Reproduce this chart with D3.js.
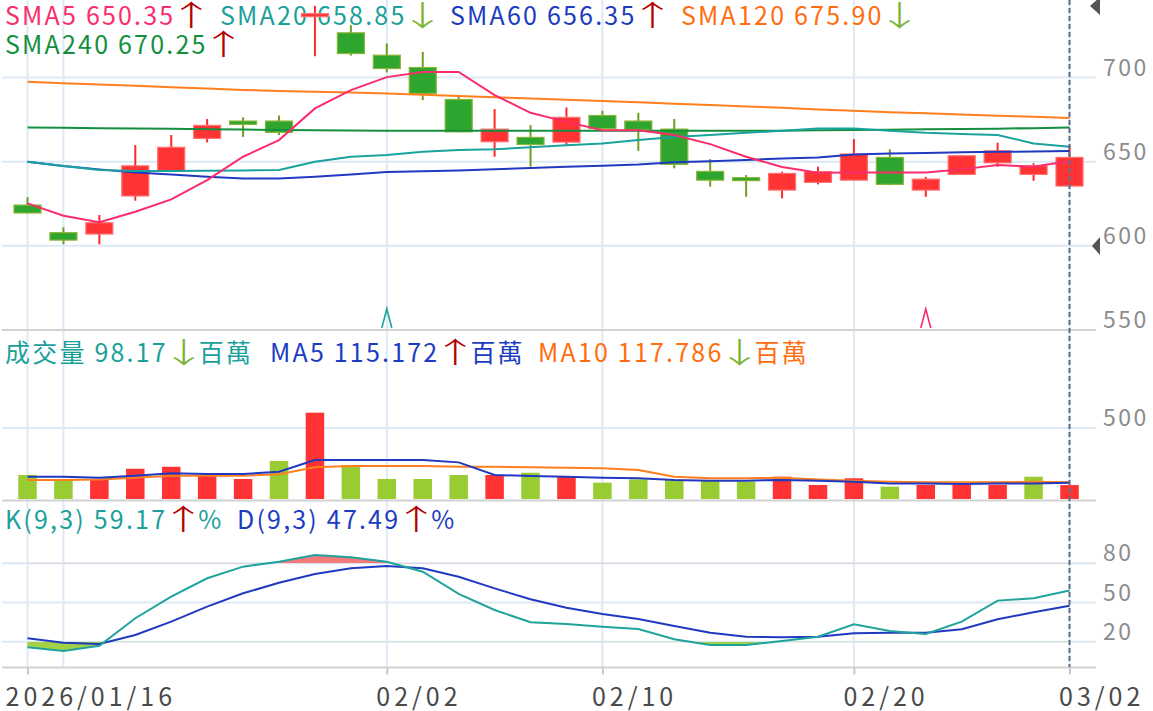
<!DOCTYPE html>
<html lang="zh-TW"><head><meta charset="utf-8">
<script src="https://cdn.jsdelivr.net/npm/d3@7/dist/d3.min.js"></script>
<style>
html,body{margin:0;padding:0;background:#fff;}
svg{display:block;}
text{font-family:"Noto Sans CJK TC","Noto Sans",sans-serif;}
</style></head><body>
<svg id="c" width="1153" height="711"></svg>
<script>
// ---------- DATA ----------
const dates = ["2026/01/16","01/19","01/20","01/21","01/22","01/23","01/26","01/27","01/28","01/29",
  "02/02","02/03","02/04","02/05","02/06","02/09","02/10","02/11","02/12","02/13",
  "02/16","02/17","02/18","02/20","02/23","02/24","02/25","02/26","02/27","03/02"];
const tickDates = ["2026/01/16","02/02","02/10","02/20","03/02"];
const extraGridDates = ["01/19"];

const open  = [624.2,607.8,607.0,629.6,644.4,663.8,674.1,674.1,736.6,726.5,713.2,705.9,686.9,661.8,664.4,661.6,677.4,674.1,669.3,644.2,640.0,633.1,637.7,639.0,652.5,633.1,642.4,649.3,642.4,635.5];
const high  = [628.9,611.0,618.3,659.8,665.8,675.3,676.3,677.4,742.5,731.0,720.2,715.2,689.5,681.2,671.7,682.2,680.2,679.0,675.3,651.5,642.0,644.0,647.0,663.4,657.3,641.0,654.0,661.2,649.0,659.8];
const low   = [619.3,601.0,600.9,626.8,644.0,661.4,664.7,665.8,712.6,713.0,703.0,686.5,667.5,652.9,647.0,659.4,669.5,656.4,646.0,635.1,629.1,628.2,636.5,639.0,636.0,629.1,642.0,647.0,638.6,635.5];
const close = [619.5,603.4,613.7,647.5,658.5,671.5,672.1,667.4,737.4,714.2,705.3,690.5,667.7,669.3,660.2,676.3,669.7,669.1,648.4,639.0,639.2,643.0,644.0,654.5,636.5,639.6,653.5,656.4,647.5,652.5];

const sma5   = [625.2,617.9,614.0,620.2,627.6,639.0,652.9,662.8,681.6,692.5,700.2,703.3,703.3,689.5,679.0,673.6,668.7,668.7,665.8,660.4,652.9,646.8,643.4,643.6,643.6,643.6,645.4,648.0,646.9,650.35];
const sma20  = [649.9,647.4,645.0,644.4,644.4,644.6,644.8,645.0,649.9,652.9,653.9,655.8,656.9,657.3,658.5,659.8,660.8,662.8,664.7,665.8,667.1,668.3,669.7,669.7,668.3,667.1,666.4,665.8,660.8,658.85];
const sma60  = [649.9,647.4,645.4,643.6,642.4,641.0,640.0,640.0,641.0,642.4,643.8,644.3,644.8,645.5,646.2,647.0,647.6,648.3,649.6,650.3,651.0,651.8,652.5,654.3,654.8,655.2,655.5,655.8,656.0,656.35];
const sma120 = [697.4,696.6,695.8,695.0,694.2,693.4,692.6,691.9,691.5,691.0,690.5,689.7,689.0,688.2,687.5,686.7,686.0,685.2,684.4,683.6,682.8,682.0,681.0,680.2,679.4,678.7,678.0,677.3,676.6,675.9];
const sma240 = [670.3,670.1,669.9,669.7,669.5,669.3,669.1,668.8,668.6,668.5,668.4,668.3,668.3,668.3,668.3,668.3,668.3,668.3,668.3,668.3,668.3,668.4,668.6,668.8,669.0,669.2,669.4,669.6,669.9,670.25];

const volume = [169,141,141,213,227,169,141,268,608,239,141,141,169,169,185,157,115,138,138,129,122,157,99,146,87,99,99,99,157,98.17];
const volUp  = [0,0,1,1,1,1,1,0,1,0,0,0,0,1,0,1,0,0,0,0,0,1,1,1,0,1,1,1,0,1];
const volMA5  = [157,157,150,164,181,176,176,192,275,275,275,275,258,169,162,157,150,146,134,129,129,134,129,122,110,110,106,110,110,115.172];
const volMA10 = [134,134,138,150,164,164,164,174,223,232,232,232,227,227,223,220,216,204,157,146,146,150,138,129,122,118,118,118,122,117.786];

const kVal = [15.7,12.9,16.9,37.9,54.4,68.5,77.4,81.2,86.3,84.6,81.2,73.5,56.5,44.2,34.8,33.5,31.5,29.7,21.8,17.4,17.4,20.5,23.8,33.3,28.2,25.9,35.3,51.4,53.2,59.17];
const dVal = [22.6,19.2,18.2,25.1,35.3,46.8,57.0,65.1,71.8,76.1,77.9,76.1,69.7,60.8,52.4,46.0,41.2,37.3,32.0,26.9,23.8,23.3,23.8,26.4,26.9,26.9,29.5,37.1,42.5,47.49];

const priceTicks = [550,600,650,700];
const volTicks = [500];
const kdTicks = [20,50,80];

const peakMarks = [{date:"02/02", color:"#1aa39e"},{date:"02/24", color:"#fa2d6c"}];

const legendMain = [
  {row:0, x:5,   parts:[["SMA5 650.35","#fa2d6c"],["↑","#b50000"]]},
  {row:0, x:220, parts:[["SMA20 658.85","#1a9f9a"],["↓","#7cb335"]]},
  {row:0, x:450, parts:[["SMA60 656.35","#1b3cc0"],["↑","#b50000"]]},
  {row:0, x:681, parts:[["SMA120 675.90","#ff6d0f"],["↓","#7cb335"]]},
  {row:1, x:5,   parts:[["SMA240 670.25","#148f3e"],["↑","#b50000"]]}
];
const legendVol = [
  {x:5,   parts:[["成交量 98.17","#1a9f9a"],["↓","#7cb335"],["百萬","#1a9f9a"]]},
  {x:270, parts:[["MA5 115.172","#1b3cc0"],["↑","#b50000"],["百萬","#1b3cc0"]]},
  {x:538, parts:[["MA10 117.786","#ff6d0f"],["↓","#7cb335"],["百萬","#ff6d0f"]]}
];
const legendKD = [
  {x:5,   parts:[["K(9,3) 59.17","#1a9f9a"],["↑","#b50000"],["%","#1a9f9a"]]},
  {x:237, parts:[["D(9,3) 47.49","#1b3cc0"],["↑","#b50000"],["%","#1b3cc0"]]}
];

// ---------- LAYOUT ----------
const svg = d3.select("#c");
const plotL = 2, plotR = 1096;
const x = d3.scalePoint().domain(dates).range([27.5, 1069.5]);
const yP = d3.scaleLinear().domain([550, 746]).range([330, 0]);
const yV = d3.scaleLinear().domain([0, 500]).range([499, 428]);
const yK = d3.scaleLinear().domain([0, 100]).range([667.8, 537.1]);
const idx = d3.range(dates.length);

const gridColor = "#dde9f5";
const g = svg.append("g");
g.selectAll("line.vg").data(tickDates.concat(extraGridDates)).join("line")
  .attr("x1", d=>x(d)).attr("x2", d=>x(d)).attr("y1",0).attr("y2",667)
  .attr("stroke",gridColor).attr("stroke-width",2);
function hgrid(scale, ticks){
  g.selectAll(null).data(ticks).join("line")
    .attr("x1",plotL).attr("x2",plotR).attr("y1",d=>scale(d)).attr("y2",d=>scale(d))
    .attr("stroke",gridColor).attr("stroke-width",2);
}
hgrid(yP, priceTicks.filter(t=>t>550));
hgrid(yV, volTicks);
hgrid(yK, kdTicks);
[330, 500.5, 667.5].forEach(yy=>{
  g.append("line").attr("x1",plotL).attr("x2",plotR).attr("y1",yy).attr("y2",yy)
   .attr("stroke","#d2d2d2").attr("stroke-width",2);
});

// ---------- LEGENDS (under the marks) ----------
function legend(items, baseY){
  items.forEach(it=>{
    const yy = baseY + (it.row ? it.row*29 : 0);
    let cx = it.x;
    it.parts.forEach(p=>{
      const isArr = (p[0]==="↑"||p[0]==="↓");
      if (isArr){
        const ac = cx + 16;
        svg.append("text").attr("transform",`translate(${ac},${yy+1}) scale(1.9,1.2)`)
          .attr("text-anchor","middle").style("font-size","24px").style("font-weight","300")
          .attr("fill",p[1]).text(p[0]);
        cx = ac + 15;
      } else {
        const t = svg.append("text").attr("x",cx).attr("y",yy)
          .style("font-size","25px").style("letter-spacing","2.2px")
          .attr("fill",p[1]).text(p[0]);
        cx += t.node().getComputedTextLength();
      }
    });
  });
}
legend(legendMain, 25);
legend(legendVol, 362);
legend(legendKD, 529);

// ---------- CANDLES ----------
const cw = 27;
const cg = svg.append("g");
idx.forEach(i=>{
  const up = close[i] >= open[i];
  const cx = x(dates[i]);
  cg.append("line").attr("x1",cx).attr("x2",cx).attr("y1",yP(high[i])).attr("y2",yP(low[i]))
    .attr("stroke", up? "#ff2828":"#6f9e22").attr("stroke-width",2);
  const top = yP(Math.max(open[i],close[i])), bot = yP(Math.min(open[i],close[i]));
  const h = Math.max(bot-top, 3);
  cg.append("rect").attr("x",cx-cw/2).attr("y", (bot-top<3)? (top+bot)/2-1.5 : top)
    .attr("width",cw).attr("height",h)
    .attr("fill", up? "#ff3333":"#2ea52e")
    .attr("stroke", up? "#ff7070":"#8ab536").attr("stroke-width",1.2);
});

function mline(scale, data, color, w){
  svg.append("path").datum(data)
    .attr("d", d3.line().x((d,i)=>x(dates[i])).y(d=>scale(d)))
    .attr("fill","none").attr("stroke",color).attr("stroke-width",w||2);
}
mline(yP, sma240, "#148f3e");
mline(yP, sma120, "#ff7f1e");
mline(yP, sma60, "#2139c0");
mline(yP, sma20, "#1aa39e");
mline(yP, sma5, "#fa2d6c");

peakMarks.forEach(m=>{
  const cx = x(m.date);
  svg.append("path").attr("d",`M${cx-5},328 L${cx},309 L${cx+5},328`)
    .attr("fill","none").attr("stroke",m.color).attr("stroke-width",1.6);
});

// ---------- VOLUME ----------
const bw = 18.5;
svg.append("g").selectAll("rect").data(volume).join("rect")
  .attr("x",(d,i)=>x(dates[i])-bw/2).attr("y",d=>yV(d))
  .attr("width",bw).attr("height",d=>yV(0)-yV(d))
  .attr("fill",(d,i)=>volUp[i]? "#ff3333":"#99cc33");
mline(yV, volMA10, "#ff7f1e");
mline(yV, volMA5, "#2139c0");

// ---------- KD ----------
const clipTop = svg.append("clipPath").attr("id","above80");
clipTop.append("rect").attr("x",0).attr("y",0).attr("width",1153).attr("height",yK(80));
const clipBot = svg.append("clipPath").attr("id","below20");
clipBot.append("rect").attr("x",0).attr("y",yK(20)).attr("width",1153).attr("height",711);
svg.append("path").datum(kVal)
  .attr("d", d3.area().x((d,i)=>x(dates[i])).y0(yK(80)).y1(d=>yK(d)))
  .attr("fill","#f26464").attr("opacity",0.85).attr("clip-path","url(#above80)");
svg.append("path").datum(kVal)
  .attr("d", d3.area().x((d,i)=>x(dates[i])).y0(yK(20)).y1(d=>yK(d)))
  .attr("fill","#9acd32").attr("opacity",0.9).attr("clip-path","url(#below20)");
mline(yK, dVal, "#2139c0");
mline(yK, kVal, "#1fa39c");

// ---------- CURSOR ----------
const lastX = x(dates[dates.length-1]);
svg.append("line").attr("x1",lastX).attr("x2",lastX).attr("y1",0).attr("y2",667)
  .attr("stroke","#5b6d8a").attr("stroke-width",2).attr("stroke-dasharray","5,3");
svg.append("path").attr("d","M1090,6 L1100,-3 L1100,15 Z").attr("fill","#555");
svg.append("path").attr("d","M1092,246 L1100,237 L1100,255 Z").attr("fill","#555");

// ---------- AXES ----------
function rightAxis(scale, ticks){
  const ax = svg.append("g").attr("transform",`translate(1103,0)`)
    .call(d3.axisRight(scale).tickValues(ticks).tickSize(0).tickPadding(0));
  ax.select(".domain").remove();
  ax.selectAll("text").attr("x",0).attr("dy","-0.1em").attr("text-anchor","start")
    .attr("fill","#8c8c8c").style("font-size","23px").style("letter-spacing","2.5px")
    .style("font-family",'"Noto Sans CJK TC","Noto Sans",sans-serif');
}
rightAxis(yP, priceTicks);
rightAxis(yV, volTicks);
rightAxis(yK, kdTicks);

const xa = svg.append("g").attr("transform","translate(0,667.5)")
  .call(d3.axisBottom(x).tickValues(tickDates).tickSize(7).tickPadding(0));
xa.select(".domain").remove();
xa.selectAll(".tick line").attr("stroke","#c8c8c8").attr("stroke-width",2);
xa.selectAll("text").attr("y",38).attr("dy",0).attr("text-anchor","start")
  .attr("x",(d,i)=> i===0 ? 5-x(d) : -11)
  .attr("fill","#4a4a4a").style("font-size","25px").style("letter-spacing","4px")
  .style("font-family",'"Noto Sans CJK TC","Noto Sans",sans-serif');
</script></body></html>
